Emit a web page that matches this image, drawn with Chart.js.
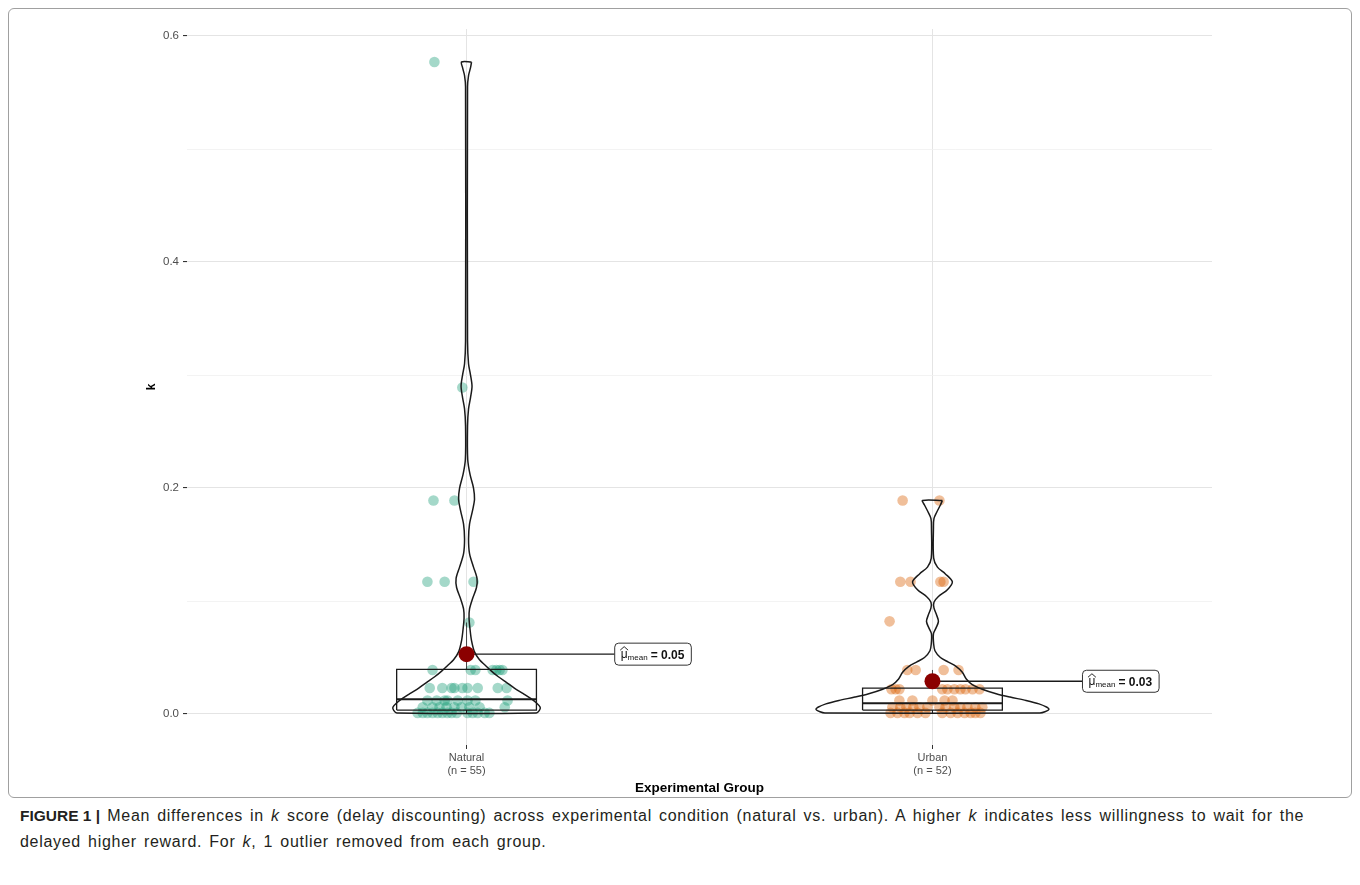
<!DOCTYPE html>
<html>
<head>
<meta charset="utf-8">
<script src="https://cdn.jsdelivr.net/npm/chart.js@4.4.0/dist/chart.umd.min.js"></script>
<style>
  body { margin: 0; background: #fff; font-family: "Liberation Sans", Arial, sans-serif; }
  #frame { position: absolute; left: 8px; top: 8px; width: 1342px; height: 788px; border: 1px solid #a0a0a0; border-radius: 6px; }
  #wrap { position: absolute; left: 8px; top: 8px; width: 1344px; height: 789px; }
  #caption { position: absolute; left: 20px; top: 803px; font-size: 16px; line-height: 26px; color: #231f20; white-space: nowrap; letter-spacing: 0.7px; word-spacing: 2px; }
  #caption b { letter-spacing: 0; word-spacing: 0; font-size: 15.5px; }
</style>
</head>
<body>
<div id="frame"></div>
<div id="wrap"><canvas id="chart" width="1344" height="789"></canvas></div>
<div id="caption"><b>FIGURE 1 |</b> Mean differences in <i>k</i> score (delay discounting) across experimental condition (natural vs. urban). A higher <i>k</i> indicates less willingness to wait for the<br>delayed higher reward. For <i>k</i>, 1 outlier removed from each group.</div>
<script>
const groups = ["Natural", "Urban"];
const groupN = [55, 52];
const yTicks = [0, 0.1, 0.2, 0.3, 0.4, 0.5, 0.6];
const yMajor = [0, 0.2, 0.4, 0.6];

// k values of each participant, and horizontal jitter (in category units)
const naturalK = [0.577, 0.289, 0.189, 0.189, 0.117, 0.117, 0.117, 0.081,
  0.039, 0.039, 0.039, 0.039, 0.039, 0.039, 0.039,
  0.023, 0.023, 0.023, 0.023, 0.023, 0.023, 0.023, 0.023, 0.023,
  0.012, 0.012, 0.012, 0.012, 0.012, 0.012, 0.012, 0.012,
  0.006, 0.006, 0.006, 0.006, 0.006, 0.006, 0.006, 0.006, 0.006,
  0.001, 0.001, 0.001, 0.001, 0.001, 0.001, 0.001, 0.001, 0.001, 0.001, 0.001, 0.001, 0.001, 0.001];
const naturalJitter = [-0.069, -0.009, -0.071, -0.026, -0.084, -0.047, 0.015, 0.006,
  -0.073, 0.009, 0.019, 0.056, 0.064, 0.071, 0.077,
  -0.079, -0.052, -0.032, -0.026, -0.009, 0.002, 0.024, 0.067, 0.086,
  -0.084, -0.064, -0.047, -0.041, -0.019, 0.002, 0.019, 0.088,
  -0.094, -0.073, -0.058, -0.043, -0.026, -0.011, 0.006, 0.028, 0.082,
  -0.105, -0.094, -0.084, -0.073, -0.062, -0.052, -0.041, -0.032, -0.021, 0.002, 0.013, 0.024, 0.039, 0.049];

const urbanK = [0.189, 0.189, 0.117, 0.117, 0.117, 0.117, 0.082,
  0.039, 0.039, 0.039, 0.039,
  0.022, 0.022, 0.022, 0.022, 0.022, 0.022, 0.022, 0.022, 0.022, 0.022,
  0.012, 0.012, 0.012, 0.012, 0.012,
  0.006, 0.006, 0.006, 0.006, 0.006, 0.006, 0.006, 0.006, 0.006, 0.006, 0.006, 0.006, 0.006,
  0.001, 0.001, 0.001, 0.001, 0.001, 0.001, 0.001, 0.001, 0.001, 0.001, 0.001, 0.001, 0.001];
const urbanJitter = [-0.064, 0.015, -0.069, -0.047, 0.017, 0.024, -0.092,
  -0.054, -0.036, 0.024, 0.056,
  -0.088, -0.079, -0.071, 0.021, 0.032, 0.047, 0.060, 0.071, 0.086, 0.101,
  -0.071, -0.043, 0.000, 0.026, 0.043,
  -0.086, -0.069, -0.056, -0.041, -0.028, -0.011, 0.015, 0.028, 0.047, 0.060, 0.075, 0.092, 0.107,
  -0.090, -0.075, -0.060, -0.049, -0.032, -0.015, 0.021, 0.039, 0.054, 0.069, 0.082, 0.092, 0.103];

// box plot stats per group
const boxQ1 = [0.0035, 0.0035];
const boxMedian = [0.013, 0.0095];
const boxQ3 = [0.0396, 0.023];
const whiskerLow = [0.001, 0.001];
const whiskerHigh = [0.081, 0.039];
const groupMean = [0.053, 0.029];

// violin outlines: k levels and density (arbitrary units, same scale for both)
const natViolinK = [0.577, 0.572, 0.565, 0.555, 0.33, 0.31, 0.3, 0.29, 0.28, 0.27,
  0.255, 0.225, 0.212, 0.2, 0.19, 0.18, 0.168, 0.155, 0.142, 0.13,
  0.12, 0.112, 0.102, 0.093, 0.085, 0.075, 0.065, 0.055, 0.048, 0.043,
  0.038, 0.033, 0.028, 0.023, 0.018, 0.014, 0.01, 0.006, 0.003, 0.001];
const natViolinDensity = [5, 4, 2, 1, 1, 2, 4, 5.5, 4, 2,
  1, 1.2, 3.5, 7, 8, 6, 3, 2, 3, 7,
  10.5, 10, 6, 3, 2.5, 3.5, 5, 8, 13, 19,
  25, 32, 40, 48, 57, 64, 70, 74, 73, 70];
const urbViolinK = [0.189, 0.185, 0.179, 0.173, 0.165, 0.138, 0.13, 0.124, 0.117, 0.11,
  0.104, 0.099, 0.094, 0.088, 0.082, 0.076, 0.071, 0.062, 0.056, 0.05,
  0.046, 0.042, 0.037, 0.031, 0.026, 0.022, 0.018, 0.015, 0.012, 0.009,
  0.006, 0.004, 0.002, 0.001];
const urbViolinDensity = [10, 8, 4.5, 1.5, 1, 1.2, 5, 13, 20, 15,
  6, 1.5, 1.5, 4, 6, 3.5, 1, 1.2, 2.5, 8,
  16, 24, 30, 34, 40, 50, 64, 78, 94, 107,
  115, 117, 113, 108];

const pointColors = ["rgba(27,158,119,0.4)", "rgba(217,95,2,0.4)"];
const violinHalf = 0.25;
const boxHalf = 0.15;
const labelOffset = [0.318, 0.322];
const lineColor = "#1a1a1a";

const maxDensity = Math.max(...natViolinDensity, ...urbViolinDensity);

function violinPath(center, ks, dens) {
  const right = ks.map((k, i) => ({ x: center + dens[i] / maxDensity * violinHalf, y: k }));
  const left = ks.map((k, i) => ({ x: center - dens[i] / maxDensity * violinHalf, y: k })).reverse();
  return [...right, ...left, right[0]];
}

function lineSet(data, width, order, tension) {
  return {
    data: data, showLine: true, borderColor: lineColor, borderWidth: width,
    pointRadius: 0, fill: false, tension: tension || 0, order: order
  };
}

const datasets = [];

// jittered points
[[naturalK, naturalJitter], [urbanK, urbanJitter]].forEach(([ks, jit], g) => {
  datasets.push({
    data: ks.map((k, i) => ({ x: g + 1 + jit[i], y: k })),
    backgroundColor: pointColors[g], borderWidth: 0, pointRadius: 5.3, order: 5
  });
});

// boxes
groups.forEach((name, g) => {
  const c = g + 1;
  datasets.push(lineSet([
    { x: c - boxHalf, y: boxQ1[g] }, { x: c + boxHalf, y: boxQ1[g] },
    { x: c + boxHalf, y: boxQ3[g] }, { x: c - boxHalf, y: boxQ3[g] },
    { x: c - boxHalf, y: boxQ1[g] }], 1.3, 4));
  datasets.push(lineSet([{ x: c - boxHalf, y: boxMedian[g] }, { x: c + boxHalf, y: boxMedian[g] }], 2, 4));
  datasets.push(lineSet([{ x: c, y: boxQ3[g] }, { x: c, y: whiskerHigh[g] }], 0.8, 4));
  datasets.push(lineSet([{ x: c, y: boxQ1[g] }, { x: c, y: whiskerLow[g] }], 0.8, 4));
});

// violins
datasets.push(lineSet(violinPath(1, natViolinK, natViolinDensity), 1.5, 3, 0.3));
datasets.push(lineSet(violinPath(2, urbViolinK, urbViolinDensity), 1.5, 3, 0.3));

// mean connectors and mean points
groups.forEach((name, g) => {
  datasets.push(lineSet([{ x: g + 1, y: groupMean[g] }, { x: g + 1 + labelOffset[g], y: groupMean[g] }], 1.4, 2));
});
datasets.push({
  data: groupMean.map((m, g) => ({ x: g + 1, y: m })),
  backgroundColor: "#8b0000", borderWidth: 0, pointRadius: 8, order: 1
});

const meanLabels = {
  id: "meanLabels",
  afterDatasetsDraw(chart) {
    const { ctx, scales: { x, y } } = chart;
    groups.forEach((name, g) => {
      const left = x.getPixelForValue(g + 1 + labelOffset[g]);
      const cy = y.getPixelForValue(groupMean[g]);
      const val = "= " + groupMean[g].toFixed(2);
      ctx.save();
      ctx.font = '12px "Liberation Sans", Arial, sans-serif';
      const muW = ctx.measureText("\u03bc").width;
      ctx.font = '8px "Liberation Sans", Arial, sans-serif';
      const subW = ctx.measureText("mean").width;
      ctx.font = 'bold 12px "Liberation Sans", Arial, sans-serif';
      const valW = ctx.measureText(val).width;
      const w = 6 + muW + subW + 3 + valW + 7;
      const h = 22;
      ctx.beginPath();
      ctx.roundRect(left, cy - h / 2, w, h, 4);
      ctx.fillStyle = "#fff";
      ctx.fill();
      ctx.lineWidth = 1;
      ctx.strokeStyle = "#333";
      ctx.stroke();
      ctx.fillStyle = "#111";
      ctx.textBaseline = "alphabetic";
      let tx = left + 6;
      ctx.font = '12px "Liberation Sans", Arial, sans-serif';
      ctx.fillText("\u03bc", tx, cy + 4);
      // hat over mu
      ctx.beginPath();
      ctx.moveTo(tx - 0.5, cy - 4);
      ctx.lineTo(tx + muW / 2, cy - 7.5);
      ctx.lineTo(tx + muW + 0.5, cy - 4);
      ctx.lineWidth = 0.9;
      ctx.strokeStyle = "#111";
      ctx.stroke();
      tx += muW;
      ctx.font = '8px "Liberation Sans", Arial, sans-serif';
      ctx.fillText("mean", tx, cy + 6);
      tx += subW + 3;
      ctx.font = 'bold 12px "Liberation Sans", Arial, sans-serif';
      ctx.fillText(val, tx, cy + 4.5);
      ctx.restore();
    });
  }
};

const isMajor = v => v !== undefined && yMajor.some(m => Math.abs(m - v) < 1e-9);

new Chart(document.getElementById("chart"), {
  type: "scatter",
  data: { datasets: datasets },
  options: {
    responsive: false,
    animation: false,
    layout: { padding: { left: 132, right: 140, top: 21, bottom: 0 } },
    plugins: { legend: { display: false }, tooltip: { enabled: false } },
    scales: {
      x: {
        type: "linear", min: 0.4, max: 2.6,
        afterBuildTicks: axis => { axis.ticks = groups.map((n, i) => ({ value: i + 1 })); },
        afterFit: axis => { axis.height = 52; },
        ticks: {
          padding: 2, color: "#4d4d4d", font: { size: 11, family: '"Liberation Sans", Arial, sans-serif' },
          maxRotation: 0,
          callback: v => { const i = Math.round(v) - 1; return [groups[i], "(n = " + groupN[i] + ")"]; }
        },
        grid: { color: "#e4e4e4", lineWidth: 1, tickColor: "#333", tickLength: 4 },
        border: { display: false },
        title: {
          display: true, text: "Experimental Group", color: "#000",
          font: { size: 13.5, weight: "bold", family: '"Liberation Sans", Arial, sans-serif' },
          padding: { top: 0, bottom: 1 }
        }
      },
      y: {
        type: "linear", min: -0.0274, max: 0.6062,
        afterBuildTicks: axis => { axis.ticks = yTicks.map(v => ({ value: v })); },
        afterFit: axis => { axis.width = 47; },
        ticks: {
          padding: 4, color: "#4d4d4d", font: { size: 11.5, family: '"Liberation Sans", Arial, sans-serif' },
          callback: v => isMajor(v) ? v.toFixed(1) : ""
        },
        grid: {
          color: c => isMajor(c.tick && c.tick.value) ? "#e4e4e4" : "#f0f0f0",
          lineWidth: c => isMajor(c.tick && c.tick.value) ? 1.1 : 0.8,
          tickColor: c => isMajor(c.tick && c.tick.value) ? "#333" : "rgba(0,0,0,0)",
          tickLength: 4
        },
        border: { display: false },
        title: {
          display: true, text: "k", color: "#000",
          font: { size: 12, weight: "bold", family: '"Liberation Sans", Arial, sans-serif' }
        }
      }
    }
  },
  plugins: [meanLabels]
});
</script>
</body>
</html>
